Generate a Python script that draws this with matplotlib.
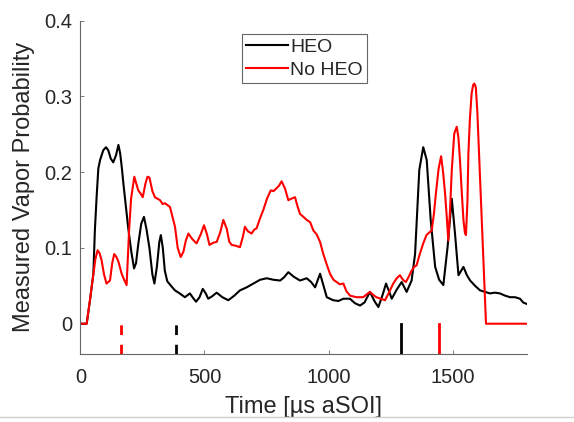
import matplotlib
matplotlib.use('Agg')
import matplotlib.pyplot as plt
from matplotlib.lines import Line2D

# HEO curve (time in us aSOI, vapor probability)
heo_t = [0, 25, 38, 52, 58, 65, 72, 79, 92, 103, 112, 122, 132, 143, 153, 160, 167, 173,
         183, 193, 205, 216, 224, 233, 245, 256, 266, 278, 290, 298, 308, 318, 324, 332,
         340, 350, 365, 381, 400, 421, 441, 454, 466, 480, 493, 505, 515, 530, 549, 572,
         596, 620, 643, 670, 697, 724, 751, 778, 805, 820, 838, 860, 885, 912, 930, 946,
         966, 980, 993, 1019, 1040, 1060, 1086, 1107, 1127, 1145, 1167, 1185, 1201, 1218,
         1232, 1245, 1255, 1275, 1295, 1315, 1335, 1349, 1366, 1382, 1396, 1412, 1430,
         1446, 1463, 1480, 1497, 1510, 1524, 1535, 1544, 1558, 1571, 1591, 1611, 1631,
         1651, 1671, 1691, 1712, 1732, 1752, 1772, 1785, 1800]
heo_p = [0, 0, 0.03, 0.066, 0.123, 0.167, 0.205, 0.216, 0.229, 0.233, 0.229, 0.218, 0.213,
         0.222, 0.236, 0.225, 0.205, 0.185, 0.155, 0.125, 0.095, 0.073, 0.08, 0.105, 0.132,
         0.141, 0.125, 0.1, 0.065, 0.053, 0.075, 0.108, 0.117, 0.1, 0.07, 0.056, 0.05,
         0.044, 0.04, 0.035, 0.04, 0.034, 0.029, 0.035, 0.046, 0.04, 0.033, 0.036, 0.041,
         0.035, 0.031, 0.037, 0.044, 0.048, 0.053, 0.058, 0.06, 0.058, 0.057, 0.061, 0.068,
         0.062, 0.057, 0.06, 0.055, 0.048, 0.066, 0.05, 0.035, 0.031, 0.03, 0.033, 0.033,
         0.027, 0.024, 0.028, 0.042, 0.03, 0.022, 0.038, 0.053, 0.042, 0.033, 0.045, 0.055,
         0.042, 0.057, 0.092, 0.203, 0.233, 0.216, 0.137, 0.075, 0.058, 0.051, 0.101, 0.165,
         0.119, 0.064, 0.07, 0.075, 0.064, 0.057, 0.05, 0.044, 0.042, 0.04, 0.041, 0.04,
         0.037, 0.035, 0.035, 0.033, 0.028, 0.026]

# No HEO curve
noheo_t = [0, 25, 38, 52, 60, 69, 77, 85, 95, 105, 119, 128, 136, 145, 153, 166, 176, 186,
           196, 204, 217, 225, 233, 242, 251, 262, 270, 278, 290, 300, 321, 331, 341, 361,
           372, 381, 392, 404, 415, 425, 435, 450, 468, 485, 498, 510, 520, 536, 549, 563,
           576, 590, 600, 610, 625, 643, 655, 663, 675, 690, 700, 710, 725, 737, 752, 767,
           778, 788, 800, 811, 825, 838, 850, 865, 875, 885, 899, 912, 926, 939, 952, 966,
           979, 993, 1006, 1020, 1033, 1045, 1060, 1072, 1087, 1100, 1113, 1140, 1155, 1167,
           1180, 1193, 1210, 1228, 1245, 1261, 1275, 1288, 1300, 1312, 1325, 1335, 1345,
           1355, 1368, 1382, 1395, 1405, 1416, 1425, 1433, 1444, 1454, 1462, 1470, 1477,
           1483, 1490, 1497, 1507, 1517, 1524, 1530, 1537, 1544, 1550, 1554, 1560, 1564,
           1570, 1577, 1583, 1588, 1594, 1600, 1635, 1800]
noheo_p = [0, 0, 0.031, 0.066, 0.085, 0.097, 0.093, 0.084, 0.065, 0.053, 0.057, 0.08, 0.092,
           0.088, 0.082, 0.066, 0.058, 0.051, 0.123, 0.165, 0.194, 0.185, 0.176, 0.172,
           0.167, 0.185, 0.194, 0.193, 0.175, 0.167, 0.163, 0.158, 0.159, 0.154, 0.14,
           0.128, 0.1, 0.088, 0.095, 0.11, 0.119, 0.112, 0.106, 0.118, 0.13, 0.118, 0.104,
           0.107, 0.108, 0.12, 0.137, 0.125, 0.108, 0.104, 0.103, 0.101, 0.115, 0.128,
           0.122, 0.119, 0.124, 0.126, 0.14, 0.15, 0.165, 0.176, 0.175, 0.178, 0.182, 0.188,
           0.178, 0.163, 0.165, 0.167, 0.155, 0.145, 0.141, 0.137, 0.134, 0.123, 0.118,
           0.108, 0.092, 0.078, 0.066, 0.058, 0.055, 0.052, 0.053, 0.043, 0.037, 0.036,
           0.035, 0.035, 0.039, 0.042, 0.038, 0.035, 0.033, 0.031, 0.042, 0.053, 0.06,
           0.064, 0.058, 0.055, 0.063, 0.07, 0.075, 0.077, 0.092, 0.106, 0.117, 0.12, 0.123,
           0.145, 0.172, 0.205, 0.221, 0.2, 0.172, 0.14, 0.11, 0.15, 0.203, 0.251, 0.26,
           0.245, 0.216, 0.175, 0.137, 0.12, 0.117, 0.16, 0.225, 0.27, 0.304, 0.315, 0.317,
           0.312, 0.28, 0, 0]

# event markers below zero
heo_marks = [385, 1292]
heo_styles = ['--', '-']
noheo_marks = [165, 1445]
noheo_styles = ['--', '-']

x_ticks = [0, 500, 1000, 1500]
y_ticks = [0, 0.1, 0.2, 0.3, 0.4]
y_ticklabels = ['0', '0.1', '0.2', '0.3', '0.4']

plt.rcParams['font.family'] = ['Liberation Sans', 'DejaVu Sans']
txt = '#262626'

fig = plt.figure(figsize=(5.74, 4.22), dpi=100)
ax = fig.add_axes([0.1402, 0.1611, 0.7778, 0.7899])

ax.plot(heo_t, heo_p, color='black', lw=1.5, label='HEO')
ax.plot(noheo_t, noheo_p, color='red', lw=1.5, label='No HEO')

for t, ls in zip(heo_marks, heo_styles):
    dash = (0, (3.5, 3.5)) if ls == '--' else '-'
    ax.plot([t, t], [-0.04, 0.0], color='black', lw=2, ls=dash)
for t, ls in zip(noheo_marks, noheo_styles):
    dash = (0, (3.5, 3.5)) if ls == '--' else '-'
    ax.plot([t, t], [-0.04, 0.0], color='red', lw=2, ls=dash)

ax.set_xlim(0, 1800)
ax.set_ylim(-0.04, 0.4)
ax.set_xticks(x_ticks)
ax.set_xticklabels([str(v) for v in x_ticks])
ax.set_yticks(y_ticks)
ax.set_yticklabels(y_ticklabels)

for s in ['top', 'right']:
    ax.spines[s].set_visible(False)
for s in ['left', 'bottom']:
    ax.spines[s].set_color('0.4')
    ax.spines[s].set_linewidth(0.8)

ax.tick_params(axis='both', direction='in', length=3, width=0.6, color='0.4',
               labelsize=14.5, labelcolor=txt)
ax.tick_params(axis='y', pad=6)
ax.tick_params(axis='x', pad=10)

ax.set_xlabel('Time [µs aSOI]', fontsize=17, color=txt)
ax.set_ylabel('Measured Vapor Probability', fontsize=17, color=txt)
ax.xaxis.set_label_coords(0.5, -0.125)
ax.yaxis.set_label_coords(-0.102, 0.5)

leg = ax.legend(loc='upper left', bbox_to_anchor=(242 / 574, 1 - 34 / 422),
                bbox_transform=fig.transFigure, borderaxespad=0, fontsize=14,
                handlelength=2.14, handletextpad=0.15, borderpad=0.2,
                labelspacing=0.3, fancybox=False, framealpha=1)
leg.get_frame().set_edgecolor('0.4')
leg.get_frame().set_linewidth(0.8)
for t in leg.get_texts():
    t.set_color(txt)

# thin grey rule at the very bottom of the screenshot
fig.add_artist(Line2D([0, 1], [0.0118, 0.0118], transform=fig.transFigure,
                      color='#d0d0d0', lw=1))

plt.savefig('out.png', dpi=100)
plt.close()
